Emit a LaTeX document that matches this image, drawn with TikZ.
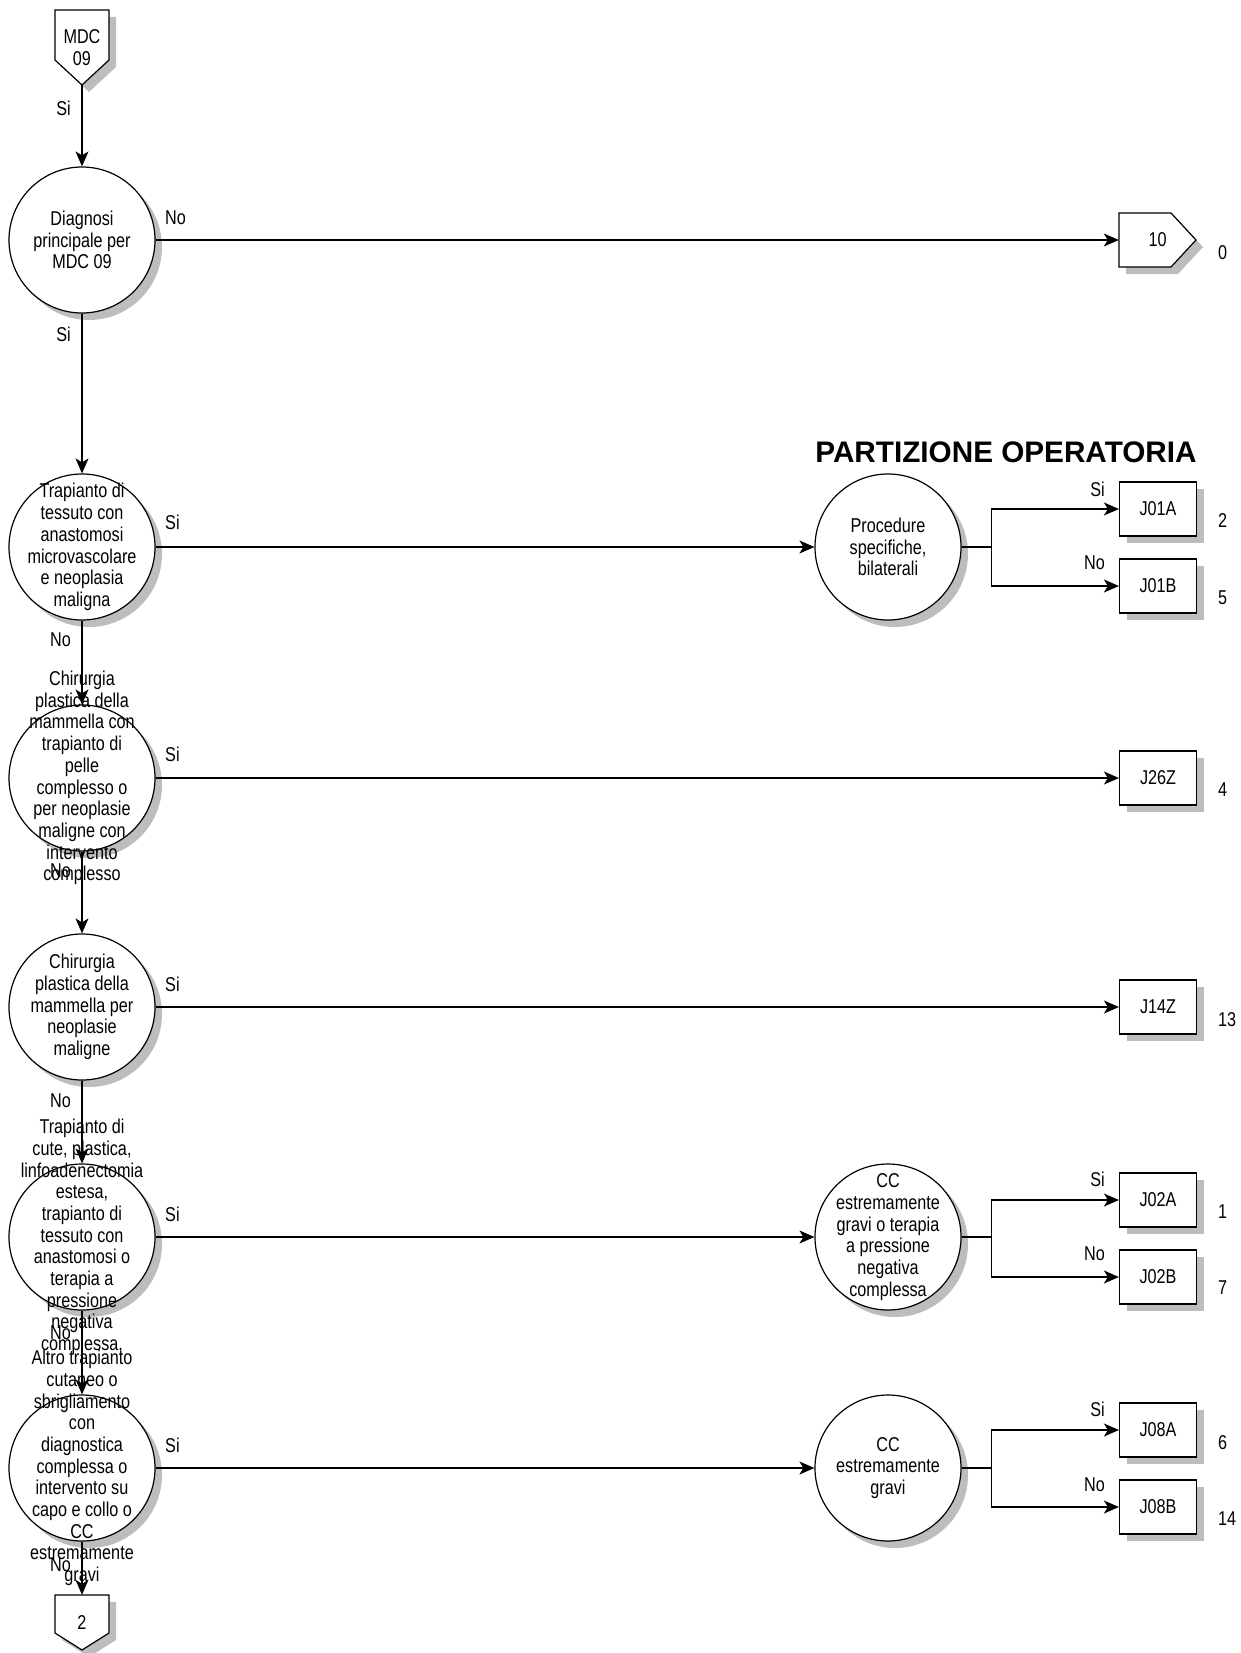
\documentclass[tikz,border=0pt]{standalone}
\usepackage{fontspec}
\setmainfont{Liberation Sans}
\newfontfamily\narrowfont{Liberation Sans}[FakeStretch=0.81]
\usetikzlibrary{arrows.meta,shadows}
\definecolor{shadecol}{gray}{0.74}
\tikzset{
  ln/.style={line width=1.2pt},
  arr/.style={line width=1.2pt,-{Stealth[length=15pt,width=13pt,inset=4pt]}},
  shadowed/.style={drop shadow={shadow xshift=7pt,shadow yshift=-7pt,fill=shadecol,opacity=1}},
  dec/.style={circle,draw,line width=1.2pt,fill=white,minimum size=146pt,inner sep=0pt,shadowed},
  dectext/.style={align=center,inner sep=0pt,font=\narrowfont\fontsize{20}{21.7}\selectfont},
  leaf/.style={rectangle,draw,line width=1.2pt,fill=white,minimum width=77pt,minimum height=54pt,inner sep=0pt,shadowed,font=\narrowfont\fontsize{20}{22}\selectfont},
  lbl/.style={inner sep=0pt,font=\narrowfont\fontsize{20}{21.7}\selectfont},
  offpage/.style={draw=none,inner sep=0pt,align=center,font=\narrowfont\fontsize{20}{21.7}\selectfont},
}
\begin{document}
\begin{tikzpicture}[x=1pt,y=-1pt]
\useasboundingbox (0,0) rectangle (1241,1653);

% ---------- off-page connector MDC 09 ----------
\fill[shadecol] (62,17) -- (116,17) -- (116,67) -- (89,92) -- (62,67) -- cycle;
\draw[ln,fill=white] (55,10) -- (109,10) -- (109,60) -- (82,85) -- (55,60) -- cycle;
\node[offpage,minimum width=54pt,minimum height=75pt] (mdc) at (82,47.5) {MDC\\09};

% ---------- off-page connector 10 ----------
\fill[shadecol] (1126,220) -- (1178,220) -- (1203,247) -- (1178,274) -- (1126,274) -- cycle;
\draw[ln,fill=white] (1119,213) -- (1171,213) -- (1196,240) -- (1171,267) -- (1119,267) -- cycle;
\node[offpage,minimum width=77pt,minimum height=54pt] (p10) at (1157.5,240) {10};

% ---------- off-page connector 2 ----------
\fill[shadecol] (62,1602) -- (116,1602) -- (116,1640) -- (89,1657) -- (62,1640) -- cycle;
\draw[ln,fill=white] (55,1595) -- (109,1595) -- (109,1633) -- (82,1650) -- (55,1633) -- cycle;
\node[offpage,minimum width=54pt,minimum height=55pt] (end2) at (82,1622.5) {2};

% ---------- main decision circles ----------
\node[dec] (d1) at (82,240) {};
\node[dec] (d2) at (82,547) {};
\node[dec] (d3) at (82,778) {};
\node[dec] (d4) at (82,1007) {};
\node[dec] (d5) at (82,1237) {};
\node[dec] (d6) at (82,1468) {};

% ---------- right decision circles ----------
\node[dec] (p1) at (888,547) {};
\node[dec] (p2) at (888,1237) {};
\node[dec] (p3) at (888,1468) {};

% ---------- leaf boxes ----------
\node[leaf] (j01a) at (1158,509) {J01A};
\node[leaf] (j01b) at (1158,586) {J01B};
\node[leaf] (j26z) at (1158,778) {J26Z};
\node[leaf] (j14z) at (1158,1007) {J14Z};
\node[leaf] (j02a) at (1158,1200) {J02A};
\node[leaf] (j02b) at (1158,1277) {J02B};
\node[leaf] (j08a) at (1158,1430) {J08A};
\node[leaf] (j08b) at (1158,1507) {J08B};

% ---------- vertical connectors ----------
\draw[arr] (mdc.south) -- (d1.north);
\draw[arr] (d1.south) -- (d2.north);
\draw[arr] (d2.south) -- (d3.north);
\draw[arr] (d3.south) -- (d4.north);
\draw[arr] (d4.south) -- (d5.north);
\draw[arr] (d5.south) -- (d6.north);
\draw[arr] (d6.south) -- (end2.north);

% ---------- horizontal connectors ----------
\draw[arr] (d1.east) -- (p10.west);
\draw[arr] (d2.east) -- (p1.west);
\draw[arr] (d3.east) -- (j26z.west);
\draw[arr] (d4.east) -- (j14z.west);
\draw[arr] (d5.east) -- (p2.west);
\draw[arr] (d6.east) -- (p3.west);

% ---------- branches ----------
\draw[arr] (p1.east) -- ++(30,0) |- (j01a.west);
\draw[arr] (p1.east) -- ++(30,0) |- (j01b.west);
\draw[arr] (p2.east) -- ++(30,0) |- (j02a.west);
\draw[arr] (p2.east) -- ++(30,0) |- (j02b.west);
\draw[arr] (p3.east) -- ++(30,0) |- (j08a.west);
\draw[arr] (p3.east) -- ++(30,0) |- (j08b.west);

% ---------- circle texts ----------
\node[dectext] (d1t) at (d1) {Diagnosi\\principale per\\MDC 09};
\node[dectext] (d2t) at (d2) {Trapianto di\\tessuto con\\anastomosi\\microvascolare\\e neoplasia\\maligna};
\node[dectext] (d3t) at (d3) {Chirurgia\\plastica della\\mammella con\\trapianto di\\pelle\\complesso o\\per neoplasie\\maligne con\\intervento\\complesso};
\node[dectext] (d4t) at (d4) {Chirurgia\\plastica della\\mammella per\\neoplasie\\maligne};
\node[dectext] (d5t) at (d5) {Trapianto di\\cute, plastica,\\linfoadenectomia\\estesa,\\trapianto di\\tessuto con\\anastomosi o\\terapia a\\pressione\\negativa\\complessa,};
\node[dectext] (d6t) at (d6) {Altro trapianto\\cutaneo o\\sbrigliamento\\con\\diagnostica\\complessa o\\intervento su\\capo e collo o\\CC\\estremamente\\gravi};
\node[dectext] (p1t) at (p1) {Procedure\\specifiche,\\bilaterali};
\node[dectext] (p2t) at (p2) {CC\\estremamente\\gravi o terapia\\a pressione\\negativa\\complessa};
\node[dectext] (p3t) at (p3) {CC\\estremamente\\gravi};

% ---------- title ----------
\node[inner sep=0pt,font=\bfseries\fontsize{29.7}{34}\selectfont] (title) at (1006,452) {PARTIZIONE OPERATORIA};

% ---------- vertical labels ----------
\node[lbl,anchor=east] (l0) at (71,108) {Si};
\node[lbl,anchor=east] (l1) at (71,334) {Si};
\node[lbl,anchor=east] (l2) at (71,640) {No};
\node[lbl,anchor=east] (l3) at (71,871) {No};
\node[lbl,anchor=east] (l4) at (71,1101) {No};
\node[lbl,anchor=east] (l5) at (71,1333) {No};
\node[lbl,anchor=east] (l6) at (71,1565) {No};

% ---------- horizontal labels ----------
\node[lbl,anchor=west] (h1) at (165,218) {No};
\node[lbl,anchor=west] (h2) at (165,522) {Si};
\node[lbl,anchor=west] (h3) at (165,754) {Si};
\node[lbl,anchor=west] (h4) at (165,984) {Si};
\node[lbl,anchor=west] (h5) at (165,1214) {Si};
\node[lbl,anchor=west] (h6) at (165,1445) {Si};

% ---------- branch labels ----------
\node[lbl,anchor=east] (b1) at (1105,489) {Si};
\node[lbl,anchor=east] (b2) at (1105,563) {No};
\node[lbl,anchor=east] (b3) at (1105,1179) {Si};
\node[lbl,anchor=east] (b4) at (1105,1254) {No};
\node[lbl,anchor=east] (b5) at (1105,1409) {Si};
\node[lbl,anchor=east] (b6) at (1105,1485) {No};

% ---------- numbers ----------
\node[lbl,anchor=west] (n0) at (1218,253) {0};
\node[lbl,anchor=west] (n1) at (1218,521) {2};
\node[lbl,anchor=west] (n2) at (1218,598) {5};
\node[lbl,anchor=west] (n3) at (1218,790) {4};
\node[lbl,anchor=west] (n4) at (1218,1020) {13};
\node[lbl,anchor=west] (n5) at (1218,1212) {1};
\node[lbl,anchor=west] (n6) at (1218,1288) {7};
\node[lbl,anchor=west] (n7) at (1218,1443) {6};
\node[lbl,anchor=west] (n8) at (1218,1519) {14};
\end{tikzpicture}
\end{document}
